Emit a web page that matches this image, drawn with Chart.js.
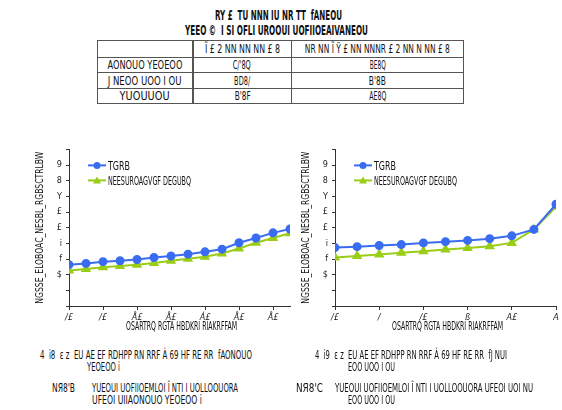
<!DOCTYPE html>
<html>
<head>
<meta charset="utf-8">
<script src="https://cdn.jsdelivr.net/npm/chart.js@4.4.0/dist/chart.umd.min.js"></script>
<style>
body{margin:0;width:562px;height:410px;background:#fff;position:relative;overflow:hidden;
  font-family:'DejaVu Sans Condensed','DejaVu Sans',sans-serif;color:#111;}
.t{position:absolute;white-space:nowrap;font-size:13px;line-height:12px;transform-origin:0 50%;}
.b{font-weight:bold;}
table{position:absolute;left:97px;top:40px;width:366px;border-collapse:collapse;font-size:12px;table-layout:fixed;}
td{border:1px solid #555;padding:0;text-align:center;line-height:12px;white-space:nowrap;}
td.c1{border-right:2px solid #555;}
.f{display:inline-block;transform-origin:50% 50%;}
canvas{position:absolute;}
</style>
</head>
<body>
<div class="t b" data-w="127" style="left:215px;top:9px;font-size:14px;">RY £ &nbsp;TU NNN IU NR TT &nbsp;fANEOU</div>
<div class="t b" data-w="183" style="left:185px;top:24px;font-size:14px;">YEEO © &nbsp;I SI OFLI UROOUI UOFIIOEAIVANEOU</div>
<table>
<colgroup><col style="width:95px;"><col style="width:99px;"><col style="width:172px;"></colgroup>
<tr style="height:17px;"><td class="c1"></td><td><span class="f" data-w="75">Ĩ £ 2 NN NN NN £ 8</span></td><td><span class="f" data-w="145">NR NN Ĩ Ÿ £ NN NNNR £ 2 NN N NN £ 8</span></td></tr>
<tr style="height:15px;"><td class="c1"><span class="f" data-w="75">AONOUO YEOEOO</span></td><td><span class="f" data-w="18">C/'8Q</span></td><td><span class="f" data-w="16">BE8Q</span></td></tr>
<tr style="height:16px;"><td class="c1"><span class="f" data-w="74">J NEOO UOO I OU</span></td><td><span class="f" data-w="16">BD8/</span></td><td><span class="f" data-w="17">B'8B</span></td></tr>
<tr style="height:15px;"><td class="c1"><span class="f" data-w="50">YUOUUOU</span></td><td><span class="f" data-w="16">B'8F</span></td><td><span class="f" data-w="17">AE8Q</span></td></tr>
</table>

<canvas id="left-chart" width="268" height="200" style="left:30px;top:140px;width:268px;height:200px;"></canvas>
<canvas id="right-chart" width="266" height="200" style="left:296px;top:140px;width:266px;height:200px;"></canvas>

<div class="t" data-w="212" style="left:40px;top:349px;">4 &nbsp;i8 &nbsp;ε z &nbsp;EU AE EF RDHPP RN RRF À 69 HF RE RR &nbsp;fAONOUO</div>
<div class="t" data-w="33" style="left:87px;top:361px;">YEOEOO i</div>
<div class="t" data-w="23" style="left:52px;top:382px;">NЯ8'B</div>
<div class="t" data-w="146" style="left:92px;top:382px;">YUEOUI UOFIIOEMLOI Î NTI I UOLLOOUORA</div>
<div class="t" data-w="110" style="left:92px;top:394px;">UFEOI UIIAONOUO YEOEOO i</div>

<div class="t" data-w="192" style="left:315px;top:349px;">4 &nbsp;i9 &nbsp;ε z &nbsp;EU AE EF RDHPP RN RRF À 69 HF RE RR &nbsp;fJ NUI</div>
<div class="t" data-w="47" style="left:348px;top:361px;">EOO UOO I OU</div>
<div class="t" data-w="27" style="left:296px;top:382px;">NЯ8'C</div>
<div class="t" data-w="198" style="left:335px;top:382px;">YUEOUI UOFIIOEMLOI Î NTI I UOLLOOUORA UFEOI UOI NU</div>
<div class="t" data-w="47" style="left:348px;top:394px;">EOO UOO I OU</div>

<script>
// squeeze the narrow text to the widths seen in the picture
document.querySelectorAll('[data-w]').forEach(function(el){
	var w = el.getBoundingClientRect().width;
	var target = +el.getAttribute('data-w');
	el.style.transform = 'scaleX(' + (target / w) + ')';
	if(el.classList.contains('f')){
		var m = -(w - target) / 2;
		el.style.marginLeft = m + 'px';
		el.style.marginRight = m + 'px';
	}
});

// series
var seriesNames = ['TGRB', 'NEESUROAGVGF DEGUBQ'];
var leftBlue  = [2.64, 2.72, 2.83, 2.89, 2.97, 3.10, 3.19, 3.31, 3.46, 3.63, 4.04, 4.34, 4.67, 4.92];
var leftGreen = [2.26, 2.37, 2.47, 2.56, 2.64, 2.75, 2.89, 3.02, 3.14, 3.35, 3.67, 4.04, 4.34, 4.65];
var rightBlue  = [3.73, 3.79, 3.86, 3.92, 4.03, 4.11, 4.19, 4.30, 4.48, 4.89, 6.50];
var rightGreen = [3.10, 3.19, 3.29, 3.40, 3.50, 3.61, 3.71, 3.82, 4.03, 4.89, 6.33];

// tick labels (as they show in the picture)
var yTickLabels = {9: '9', 8: '8', 7: 'Y', 6: '£', 5: '£', 4: 'i', 3: 'f', 2: '$'};
var leftXTicks = {0: '/£', 2: '/£', 4: 'Å£', 6: 'Å£', 8: 'Á£', 10: 'Å£', 12: 'Å£'};
var rightXTicks = {0: '/£', 2: '/', 4: '/£', 6: 'ß', 8: 'A£', 10: 'A'};
var yTitle = 'NGSSE_ELOBOAC_NESBL_RGBSCTRLBW';
var xTitle = 'OSARTRQ RGTA HBDKRI RIAKRFFAM';

var BLUE = '#3a6cf2';
var GREEN = '#9acd16';
var FONT = "'DejaVu Sans Condensed','DejaVu Sans',sans-serif";

function toPoints(arr){
	return arr.map(function(v, i){ return {x: i, y: v}; });
}

function squeezeText(ctx, text, x, y, width, align){
	var w = ctx.measureText(text).width;
	var k = width / w;
	ctx.save();
	ctx.translate(x, y);
	ctx.scale(k, 1);
	ctx.textAlign = align;
	ctx.fillText(text, 0, 0);
	ctx.restore();
}

// legend inside the plot (line + marker) and the narrow axis titles
var extras = {
	id: 'extras',
	afterDraw: function(chart){
		var ctx = chart.ctx, a = chart.chartArea;
		var legendW = [22, 83];
		chart.data.datasets.forEach(function(ds, i){
			var y = a.top + 16 + i * 15;
			var x0 = a.left + 19, x1 = a.left + 37;
			ctx.save();
			ctx.strokeStyle = ds.borderColor;
			ctx.lineWidth = 2;
			ctx.beginPath(); ctx.moveTo(x0, y); ctx.lineTo(x1, y); ctx.stroke();
			ctx.fillStyle = ds.borderColor;
			var cx = (x0 + x1) / 2;
			ctx.beginPath();
			if(ds.pointStyle == 'triangle'){
				ctx.moveTo(cx, y - 4); ctx.lineTo(cx + 4, y + 3); ctx.lineTo(cx - 4, y + 3); ctx.closePath();
			}else{
				ctx.arc(cx, y, 3.5, 0, Math.PI * 2);
			}
			ctx.fill();
			ctx.fillStyle = '#111';
			ctx.font = '12px ' + FONT;
			ctx.textBaseline = 'middle';
			squeezeText(ctx, ds.label, x1 + 2, y + 1, legendW[i], 'left');
			ctx.restore();
		});
		ctx.save();
		ctx.fillStyle = '#111';
		ctx.font = '12px ' + FONT;
		ctx.textBaseline = 'middle';
		squeezeText(ctx, xTitle, (a.left + a.right) / 2 + 2, a.bottom + 21, 111, 'center');
		ctx.translate(a.left - 29, (a.top + a.bottom) / 2);
		ctx.rotate(-Math.PI / 2);
		ctx.font = '11px ' + FONT;
		squeezeText(ctx, yTitle, 0, 0, 152, 'center');
		ctx.restore();
	}
};

function renderChart(el, blue, green, xTicks, maxX, padRight){
	return new Chart(el, {
		type: 'line',
		data: {
			datasets: [{
				label: seriesNames[0],
				data: toPoints(blue),
				borderColor: BLUE,
				backgroundColor: BLUE,
				borderWidth: 2,
				pointStyle: 'circle',
				pointRadius: 3.5,
				tension: 0
			}, {
				label: seriesNames[1],
				data: toPoints(green),
				borderColor: GREEN,
				backgroundColor: GREEN,
				borderWidth: 2,
				pointStyle: 'triangle',
				pointRadius: 4,
				tension: 0
			}]
		},
		options: {
			responsive: false,
			animation: false,
			layout: {padding: {top: 7, right: padRight, left: 0, bottom: 0}},
			plugins: {legend: {display: false}, tooltip: {enabled: false}},
			scales: {
				x: {
					type: 'linear', min: 0, max: maxX,
					border: {color: '#333', width: 1},
					grid: {drawOnChartArea: false, tickLength: 4, color: '#333'},
					ticks: {
						stepSize: 2, includeBounds: false, autoSkip: false, maxRotation: 0,
						color: '#222', padding: 2,
						font: {family: FONT, size: 9, style: 'italic'},
						callback: function(v){ return xTicks[v] || ''; }
					},
					afterFit: function(s){ s.height = 34; }
				},
				y: {
					min: 0, max: 10,
					border: {color: '#333', width: 1},
					grid: {drawOnChartArea: false, tickLength: 3, color: '#333'},
					ticks: {
						stepSize: 1, color: '#222', padding: 4,
						font: {family: FONT, size: 9},
						callback: function(v){ return yTickLabels[v] || ''; }
					},
					afterFit: function(s){ s.width = 39; }
				}
			}
		},
		plugins: [extras]
	});
}

renderChart(document.getElementById('left-chart'), leftBlue, leftGreen, leftXTicks, 13, 8);
renderChart(document.getElementById('right-chart'), rightBlue, rightGreen, rightXTicks, 10, 5);
</script>
</body>
</html>
